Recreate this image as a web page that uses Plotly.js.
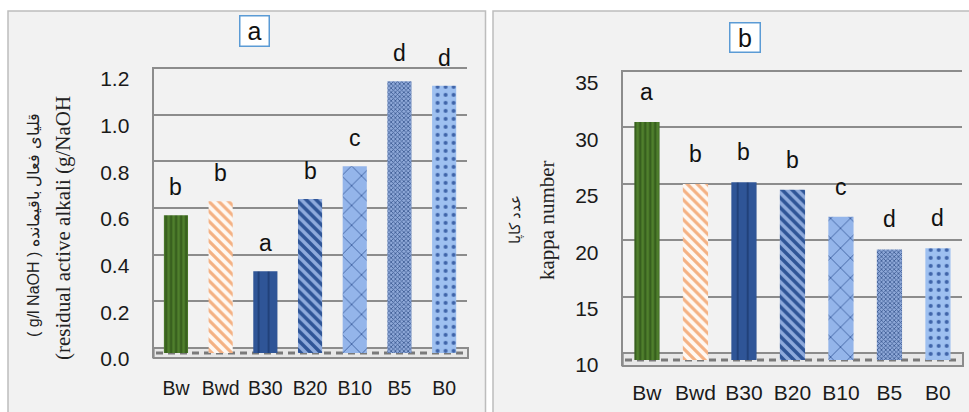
<!DOCTYPE html>
<html>
<head>
<meta charset="utf-8">
<script src="https://cdn.plot.ly/plotly-3.0.1.min.js"></script>
<style>html,body{margin:0;padding:0;background:#fff;}#chart{width:969px;height:412px;}</style>
</head>
<body>
<div id="chart"></div>
<script>
// ---- data ----
const categories = ['Bw', 'Bwd', 'B30', 'B20', 'B10', 'B5', 'B0'];
const alkaliValues = [0.59, 0.65, 0.35, 0.66, 0.80, 1.165, 1.145];
const kappaValues = [31.1, 25.6, 25.75, 25.1, 22.7, 19.8, 19.9];
const lettersA = ['b', 'b', 'a', 'b', 'c', 'd', 'd'];
const lettersB = ['a', 'b', 'b', 'b', 'c', 'd', 'd'];
const ticksA = [0, 0.2, 0.4, 0.6, 0.8, 1.0, 1.2];
const tickTextA = ['0.0', '0.2', '0.4', '0.6', '0.8', '1.0', '1.2'];
const ticksB = [10, 15, 20, 25, 30, 35];
const kappaBase = 10;

// ---- styles ----
const W = 969, H = 412;
const px = x => x / W;
const py = y => 1 - y / H;
const SANS = 'Liberation Sans, Arial, sans-serif';
const SERIF = 'Liberation Serif, Times New Roman, serif';
const GRID = '#8c8c8c';

const barStyles = [
  {shape: '|', bg: '#4f7f2c', fg: '#33591b', size: 5, solidity: 0.4},
  {shape: '\\', bg: '#fff8f2', fg: '#f4b183', size: 7, solidity: 0.45},
  {shape: '|', bg: '#2f5597', fg: '#1c3a70', size: 10, solidity: 0.15},
  {shape: '\\', bg: '#8eaadc', fg: '#2f5597', size: 7, solidity: 0.5},
  {shape: 'x', bg: '#94b5ea', fg: '#3d5f9f', size: 14, solidity: 0.12},
  {shape: 'x', bg: '#8ea8d8', fg: '#3b5a92', size: 3, solidity: 0.45},
  {shape: '.', bg: '#9ec0f0', fg: '#3e63a8', size: 8, solidity: 0.2}
];
const mkMarker = s => ({
  color: s.bg,
  pattern: {shape: s.shape, bgcolor: s.bg, fgcolor: s.fg, fgopacity: 1, size: s.size,
    solidity: s.solidity, fillmode: 'replace'},
  line: {width: 0}
});

const traces = [];
// invisible anchors so the main (grid) subplots exist
traces.push({type: 'scatter', x: categories, y: alkaliValues, xaxis: 'x', yaxis: 'y',
  mode: 'markers', marker: {opacity: 0}, hoverinfo: 'skip', showlegend: false});
traces.push({type: 'scatter', x: categories, y: kappaValues, xaxis: 'x2', yaxis: 'y3',
  mode: 'markers', marker: {opacity: 0}, hoverinfo: 'skip', showlegend: false});
categories.forEach((c, i) => {
  traces.push({type: 'bar', x: [c], y: [alkaliValues[i]], xaxis: 'x', yaxis: 'y2',
    width: 0.54, marker: mkMarker(barStyles[i]), showlegend: false, hoverinfo: 'x+y'});
  traces.push({type: 'bar', x: [c], y: [kappaValues[i] - kappaBase], base: kappaBase,
    xaxis: 'x2', yaxis: 'y4',
    width: 0.52, marker: mkMarker(barStyles[i]), showlegend: false, hoverinfo: 'x'});
});

const letterFont = {family: SANS, size: 23, color: '#111'};
const annotations = [];
categories.forEach((c, i) => {
  annotations.push({x: c, y: alkaliValues[i], xref: 'x', yref: 'y2', text: lettersA[i],
    showarrow: false, yanchor: 'bottom', yshift: 13, font: letterFont});
  annotations.push({x: c, y: kappaValues[i], xref: 'x2', yref: 'y4', text: lettersB[i],
    showarrow: false, yanchor: 'bottom', yshift: 15, font: letterFont});
});
// panel titles
annotations.push({x: px(254), y: py(31), xref: 'paper', yref: 'paper', text: 'a', showarrow: false,
  font: {family: SANS, size: 25, color: '#111'}, bordercolor: '#5b9bd5', borderwidth: 1.5,
  bgcolor: '#ffffff', width: 26, height: 27, xanchor: 'center', yanchor: 'middle'});
annotations.push({x: px(745), y: py(37.5), xref: 'paper', yref: 'paper', text: 'b', showarrow: false,
  font: {family: SANS, size: 25, color: '#111'}, bordercolor: '#5b9bd5', borderwidth: 1.5,
  bgcolor: '#ffffff', width: 27, height: 26, xanchor: 'center', yanchor: 'middle'});
// y titles
annotations.push({x: px(33), y: py(225), xref: 'paper', yref: 'paper', textangle: -90, showarrow: false,
  text: '( g/l NaOH ) قلیای فعال باقیمانده', font: {family: SANS, size: 16, color: '#222'},
  xanchor: 'center', yanchor: 'middle'});
annotations.push({x: px(63), y: py(228), xref: 'paper', yref: 'paper', textangle: -90, showarrow: false,
  text: '(residual active alkali (g/NaOH', font: {family: SERIF, size: 21, color: '#222'},
  xanchor: 'center', yanchor: 'middle'});
annotations.push({x: px(515), y: py(220), xref: 'paper', yref: 'paper', textangle: -90, showarrow: false,
  text: 'عدد کاپا', font: {family: SANS, size: 15, color: '#222'},
  xanchor: 'center', yanchor: 'middle'});
annotations.push({x: px(547), y: py(220), xref: 'paper', yref: 'paper', textangle: -90, showarrow: false,
  text: 'kappa number', font: {family: SERIF, size: 21, color: '#222'},
  xanchor: 'center', yanchor: 'middle'});

const shapes = [
  // panels
  {type: 'rect', xref: 'paper', yref: 'paper', x0: px(8), x1: px(485.5), y0: -0.05, y1: py(11),
    fillcolor: '#f2f2f2', line: {color: '#bdbdbd', width: 1.5}, layer: 'below'},
  {type: 'rect', xref: 'paper', yref: 'paper', x0: px(493), x1: 1.05, y0: -0.05, y1: py(11),
    fillcolor: '#f2f2f2', line: {color: '#bdbdbd', width: 1.5}, layer: 'below'},
  // floors
  {type: 'rect', xref: 'paper', yref: 'paper', x0: px(153.6), x1: px(468), y0: py(358), y1: py(348),
    fillcolor: '#e8e8e8', line: {color: GRID, width: 2}, layer: 'between'},
  {type: 'line', xref: 'paper', yref: 'paper', x0: px(156), x1: px(465), y0: py(353), y1: py(353),
    line: {color: '#7a7a7a', width: 3, dash: '7px,5px'}, layer: 'between'},
  {type: 'rect', xref: 'paper', yref: 'paper', x0: px(622.7), x1: px(963), y0: py(366), y1: py(353),
    fillcolor: '#e8e8e8', line: {color: GRID, width: 2}, layer: 'between'},
  {type: 'line', xref: 'paper', yref: 'paper', x0: px(625), x1: px(960), y0: py(360), y1: py(360),
    line: {color: '#7a7a7a', width: 3, dash: '7px,5px'}, layer: 'between'}
];

const tickFont = {family: SANS, size: 21, color: '#1a1a1a'};

const layout = {
  width: W, height: H,
  margin: {l: 0, r: 0, t: 0, b: 0},
  paper_bgcolor: '#ffffff', plot_bgcolor: 'rgba(0,0,0,0)',
  showlegend: false, barmode: 'overlay',
  xaxis: {domain: [px(153.6), px(466.5)], anchor: 'y', type: 'category', range: [-0.5, 6.5],
    categoryorder: 'array', categoryarray: categories,
    showgrid: false, zeroline: false, showline: false, ticks: '',
    tickfont: {family: SANS, size: 19.5, color: '#1a1a1a'}, ticklabelstandoff: 16, fixedrange: true},
  yaxis: {domain: [py(358), py(66.87)], anchor: 'x', range: [-10 / 233.3, 1.205],
    tickvals: ticksA, ticktext: tickTextA, showgrid: true, gridcolor: GRID, gridwidth: 2,
    zeroline: false, showline: true, linecolor: GRID, linewidth: 2, ticks: '',
    tickfont: tickFont, ticklabelshift: 11, ticklabelstandoff: 18, fixedrange: true},
  yaxis2: {overlaying: 'y', anchor: 'x', range: [-5 / 233.3, (353 - 66.87) / 233.3], visible: false,
    showgrid: false, zeroline: false, fixedrange: true},
  xaxis2: {domain: [px(622.7), px(962.2)], anchor: 'y3', type: 'category', range: [-0.5, 6.5],
    categoryorder: 'array', categoryarray: categories,
    showgrid: false, zeroline: false, showline: false, ticks: '',
    tickfont: {family: SANS, size: 21, color: '#1a1a1a'}, ticklabelstandoff: 12, fixedrange: true},
  yaxis3: {domain: [py(366), py(69.9)], anchor: 'x2', range: [10 - 13 / 11.28, 35.1],
    tickvals: ticksB, showgrid: true, gridcolor: GRID, gridwidth: 2,
    zeroline: false, showline: true, linecolor: GRID, linewidth: 2, ticks: '',
    tickfont: tickFont, ticklabelshift: 12, ticklabelstandoff: 18, fixedrange: true},
  yaxis4: {overlaying: 'y3', anchor: 'x2', range: [10 - 6 / 11.28, 10 + (360 - 69.9) / 11.28], visible: false,
    showgrid: false, zeroline: false, fixedrange: true},
  annotations: annotations,
  shapes: shapes
};

Plotly.newPlot('chart', traces, layout, {staticPlot: true, displayModeBar: false});
</script>
</body>
</html>
